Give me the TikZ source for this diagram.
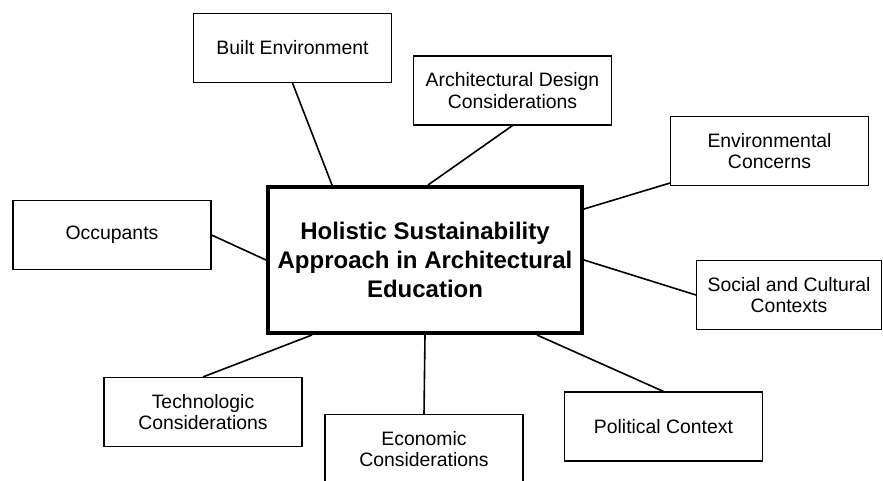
\documentclass[tikz,border=0pt]{standalone}
\usepackage{fontspec}
\setmainfont{Liberation Sans}
\begin{document}
\begin{tikzpicture}[x=1pt,y=-1pt,
  topicbox/.style={draw=black, line width=1.1pt, rectangle, align=center,
    minimum width=198pt, minimum height=69pt, inner sep=2pt,
    font=\fontsize{19.4}{21.7}\selectfont},
  hubbox/.style={draw=black, line width=4pt, rectangle, align=center,
    minimum width=314pt, minimum height=146pt, inner sep=2pt,
    font=\bfseries\fontsize{24}{29}\selectfont},
  link/.style={draw=black, line width=1.6pt}]
\useasboundingbox (0,0) rectangle (883,481);

\node[hubbox] (hub) at (425,260) {Holistic Sustainability\\Approach in Architectural\\Education};

\node[topicbox] (be) at (292.5,48) {Built Environment};
\node[topicbox] (ad) at (512.5,90.5) {Architectural Design\\Considerations};
\node[topicbox] (ec) at (769.5,151) {Environmental\\Concerns};
\node[topicbox] (oc) at (112,235) {Occupants};
\node[topicbox, minimum width=185pt] (sc) at (789,295) {Social and Cultural\\Contexts};
\node[topicbox] (tc) at (203,412) {Technologic\\Considerations};
\node[topicbox] (ek) at (424,449) {Economic\\Considerations};
\node[topicbox] (pc) at (663.5,426.5) {Political Context};

\draw[link] (be.south) -- ([xshift=-93pt]hub.north);
\draw[link] (ad.south) -- ([xshift=3pt]hub.north);
\draw[link] ([yshift=3pt]ec.south west) -- ([yshift=51pt]hub.east);
\draw[link] (sc.west) -- (hub.east);
\draw[link] (oc.east) -- (hub.west);
\draw[link] (tc.north) -- ([xshift=-113pt]hub.south);
\draw[link] (ek.north) -- (hub.south);
\draw[link] (pc.north) -- ([xshift=112pt]hub.south);
\end{tikzpicture}
\end{document}
